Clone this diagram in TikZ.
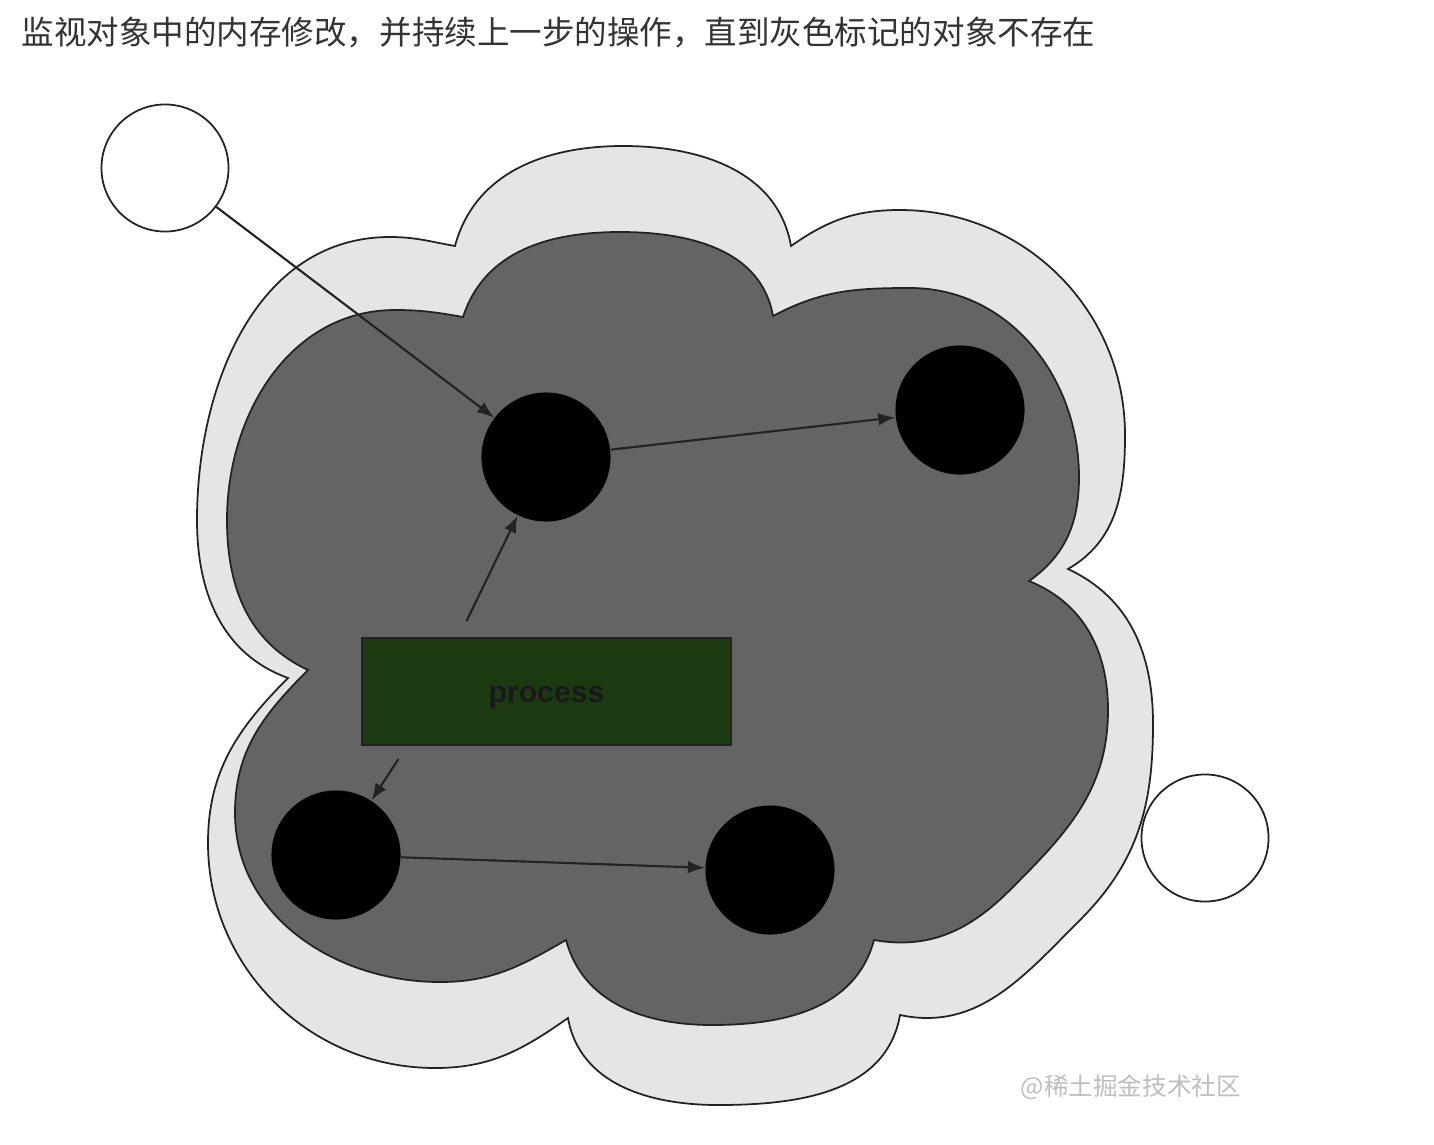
\documentclass[tikz,border=0pt]{standalone}
\usepackage{fontspec}
\setsansfont{Liberation Sans}
\newfontfamily\cjk{Noto Sans CJK SC}
\usepackage{tikz}
\usetikzlibrary{arrows.meta,positioning,calc}
\definecolor{grisclair}{HTML}{E5E5E5}
\definecolor{grisfonce}{HTML}{646464}
\definecolor{vertfonce}{HTML}{1C3A11}
\definecolor{trait}{HTML}{222222}
\definecolor{texte}{HTML}{333333}
\definecolor{filigrane}{HTML}{BEBEBE}

\begin{document}
\begin{tikzpicture}[x=0.01cm,y=0.01cm]
\tikzstyle{fleche}=[->,>={Latex[length=4.8pt,width=3.6pt]},line width=0.6pt,draw=trait]
\tikzstyle{nuageclair}=[fill=grisclair,draw=trait,line width=0.5pt]
\tikzstyle{nuagefonce}=[fill=grisfonce,draw=trait,line width=0.5pt]
\tikzstyle{blanc}=[circle,fill=white,draw=trait,line width=0.5pt,minimum size=1.27cm,inner sep=0pt]
\tikzstyle{objet}=[circle,fill=black,minimum size=1.29cm,inner sep=0pt]
\tikzstyle{processus}=[rectangle,fill=vertfonce,draw=trait,line width=0.5pt,minimum width=3.69cm,minimum height=1.07cm,inner sep=0pt,text height=6.2pt,text depth=0pt,font=\sffamily\bfseries\fontsize{8.6pt}{10pt}\selectfont,text=black!90]
\useasboundingbox (0,0) rectangle (1434,1144);
% titre
\node[anchor=west,inner sep=0pt,text=texte] (titre) at (21,1111) {\cjk\fontsize{9.25pt}{11pt}\selectfont 监视对象中的内存修改，并持续上一步的操作，直到灰色标记的对象不存在};
% nuage exterieur
\draw[nuageclair] (455,898)
  to[out=75,in=180] (623,998)
  to[out=0,in=100] (791,898)
  to[out=35,in=180] (900,934)
  to[out=0,in=90] (1125,709)
  to[out=-90,in=30] (1068,575)
  to[out=-25,in=90] (1153,420)
  to[out=-90,in=45] (1080,224)
  to[out=-135,in=-12] (900,129)
  to[out=-100,in=0] (718,39)
  to[out=180,in=-80] (568,126)
  to[out=215,in=0] (435,76)
  to[out=180,in=-90] (208,301)
  to[out=90,in=225] (288,466)
  to[out=160,in=-90] (197,624)
  to[out=90,in=180] (390,907)
  to[out=0,in=170] (455,898) -- cycle;
% nuage interieur
\draw[nuagefonce] (463,827)
  to[out=72,in=180] (620,912)
  to[out=0,in=100] (773,828)
  to[out=28,in=180] (910,856)
  to[out=0,in=90] (1079,667)
  to[out=-90,in=35] (1029,563)
  to[out=-22,in=90] (1108,434)
  to[out=-90,in=45] (1010,254)
  to[out=-135,in=-10] (874,204)
  to[out=-105,in=0] (712,119)
  to[out=180,in=-75] (566,204)
  to[out=210,in=0] (440,162)
  to[out=180,in=-90] (235,331)
  to[out=90,in=225] (308,474)
  to[out=155,in=-90] (227,624)
  to[out=90,in=180] (395,834)
  to[out=0,in=170] (463,827) -- cycle;
% objets
\node[blanc] (blancA) at (165,976) {};
\node[blanc] (blancB) at (1205,306) {};
\node[objet] (objA) at (546,687) {};
\node[objet] (objB) at (960,734) {};
\node[objet] (objC) at (336,289) {};
\node[objet] (objD) at (770,274) {};
\node[processus] (proc) at (546.5,452.5) {process};
\coordinate (departA) at ($(proc.north)+(-80,16)$);
\coordinate (departC) at ($(proc.south)+(-148,-13)$);
% fleches
\draw[fleche] (blancA)--(objA);
\draw[fleche] (objA)--(objB);
\draw[fleche] (departA)--(objA);
\draw[fleche] (departC)--(objC);
\draw[fleche] (objC)--(objD);
% filigrane
\node[anchor=west,inner sep=0pt,text=filigrane] (filigrane) at (1020,57) {\cjk\fontsize{7pt}{8pt}\selectfont @稀土掘金技术社区};
\end{tikzpicture}
\end{document}
